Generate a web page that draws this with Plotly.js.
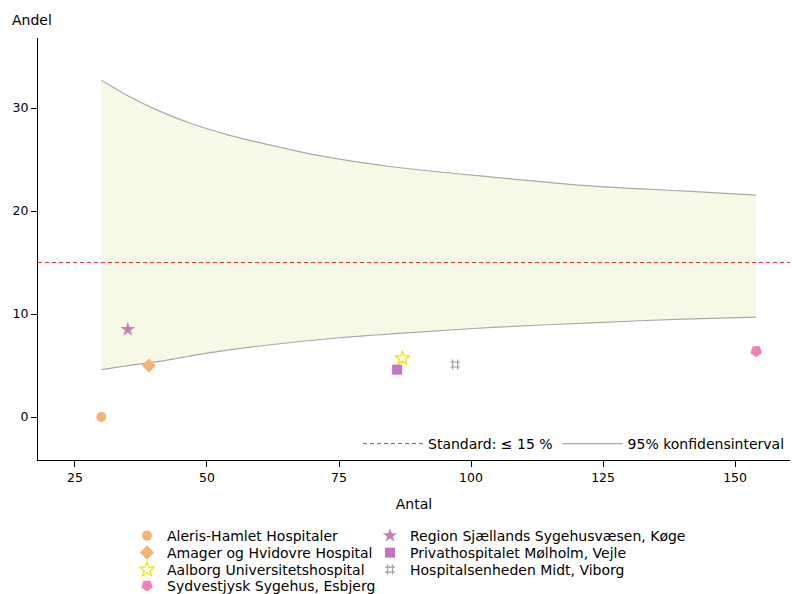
<!DOCTYPE html>
<html>
<head>
<meta charset="utf-8">
<script src="https://cdn.plot.ly/plotly-3.0.1.min.js"></script>
<style>html,body{margin:0;padding:0;background:#fff;}#chart{width:792px;height:594px;}</style>
</head>
<body>
<div id="chart"></div>
<script>
// Hospitals (name, count, share %)
const hospitals = ["Aleris-Hamlet Hospitaler", "Amager og Hvidovre Hospital", "Aalborg Universitetshospital", "Sydvestjysk Sygehus, Esbjerg", "Region Sjællands Sygehusvæsen, Køge", "Privathospitalet Mølholm, Vejle", "Hospitalsenheden Midt, Viborg"];
const antal = [30, 39, 87, 154, 35, 86, 97];
const andel = [0, 5.0, 5.7, 6.4, 8.5, 4.6, 5.1];

// 95% confidence limits
const ciUpperN = [30, 35, 41, 47, 54, 62, 71, 85, 104, 121, 140, 154];
const ciUpper = [32.7, 31.2, 29.7, 28.5, 27.4, 26.4, 25.4, 24.3, 23.3, 22.5, 21.95, 21.55];
const ciLowerN = [30, 35, 41, 50, 60, 75, 90, 104, 125, 140, 154];
const ciLower = [4.6, 5.0, 5.4, 6.2, 6.9, 7.7, 8.25, 8.7, 9.2, 9.5, 9.7];

const standardValue = 15;
const xTicks = [25, 50, 75, 100, 125, 150];
const yTicks = [0, 10, 20, 30];

const styles = [
  {symbol: "circle", color: "#f8b273", size: 10},
  {symbol: "diamond", color: "#f8b273", size: 11},
  {symbol: "star-open", color: "#f2e200", size: 11, lw: 1.2},
  {symbol: "pentagon", color: "#f57fb4", size: 12, angle: 180},
  {symbol: "star", color: "#c585b0", size: 11},
  {symbol: "square", color: "#c673c6", size: 10},
  {symbol: "hash-open", color: "#a0a0a0", size: 10, lw: 1.2}
];

const traces = [];
traces.push({
  x: ciLowerN, y: ciLower, type: "scatter", mode: "lines",
  line: {color: "#aaaaaa", width: 1.2, shape: "spline", smoothing: 0.8},
  showlegend: false, hoverinfo: "skip"
});
traces.push({
  x: ciUpperN, y: ciUpper, type: "scatter", mode: "lines",
  line: {color: "#aaaaaa", width: 1.2, shape: "spline", smoothing: 0.8},
  fill: "tonexty", fillcolor: "#f7f9e6",
  showlegend: false, hoverinfo: "skip"
});
traces.push({
  x: [18, 160.4], y: [standardValue, standardValue], type: "scatter", mode: "lines",
  line: {color: "#dd3333", width: 1, dash: "4px,3px"},
  name: "Standard: ≤ 15 %", legend: "legend8", showlegend: true
});
traces.push({
  x: [null], y: [null], type: "scatter", mode: "lines",
  line: {color: "#aaaaaa", width: 1.2},
  name: "95% konfidensinterval", legend: "legend8", showlegend: true
});

const legendIds = ["legend", "legend2", "legend3", "legend4", "legend5", "legend6", "legend7"];
hospitals.forEach((h, i) => {
  const s = styles[i];
  const isOpen = s.symbol.indexOf("open") >= 0;
  traces.push({
    x: [antal[i]], y: [andel[i]], type: "scatter", mode: "markers",
    name: h, legend: legendIds[i], showlegend: true,
    marker: {
      symbol: s.symbol, size: s.size, color: s.color, angle: s.angle || 0,
      line: {color: s.color, width: isOpen ? (s.lw || 1) : 0}
    }
  });
});

const font = {family: "DejaVu Sans, sans-serif", size: 14, color: "#000"};
const layout = {
  width: 792, height: 594,
  margin: {l: 38, r: 2, t: 38, b: 134, autoexpand: false},
  paper_bgcolor: "#fff", plot_bgcolor: "#fff",
  font: font,
  xaxis: {
    range: [18, 160.4], tickvals: xTicks, ticks: "outside", ticklen: 6, tickcolor: "#000",
    showline: true, linecolor: "#000", linewidth: 1, showgrid: false, zeroline: false,
    tickfont: {family: "DejaVu Sans, sans-serif", size: 12.5},
    title: {text: "Antal", standoff: 15, font: {size: 14}}, automargin: false
  },
  yaxis: {
    range: [-4.17, 36.8], tickvals: yTicks, ticks: "outside", ticklen: 6, tickcolor: "#000",
    showline: true, linecolor: "#000", linewidth: 1, showgrid: false, zeroline: false,
    tickfont: {family: "DejaVu Sans, sans-serif", size: 12.5}, automargin: false
  },
  annotations: [{
    text: "Andel", xref: "paper", yref: "paper", x: -0.037, y: 1.043,
    xanchor: "left", yanchor: "middle", showarrow: false, font: {size: 14}
  }],
  showlegend: true
};

// legend positions (paper coords): two columns, four rows
const colX = [0.1184, 0.4415];
const rowY = [-0.1422, -0.1825, -0.2227, -0.2606];
const slots = [[0,0],[0,1],[0,2],[0,3],[1,0],[1,1],[1,2]];
legendIds.forEach((id, i) => {
  layout[id] = {
    x: colX[slots[i][0]], y: rowY[slots[i][1]], xanchor: "left", yanchor: "top",
    orientation: "v", bgcolor: "rgba(0,0,0,0)", font: {size: 14}, traceorder: "normal",
    maxheight: 200
  };
});
layout.legend8 = {
  x: 1, y: 0, xanchor: "right", yanchor: "bottom", orientation: "h",
  bgcolor: "rgba(0,0,0,0)", font: {size: 14}, traceorder: "normal", itemwidth: 60
};

Plotly.newPlot("chart", traces, layout, {staticPlot: true, displayModeBar: false});
</script>
</body>
</html>
